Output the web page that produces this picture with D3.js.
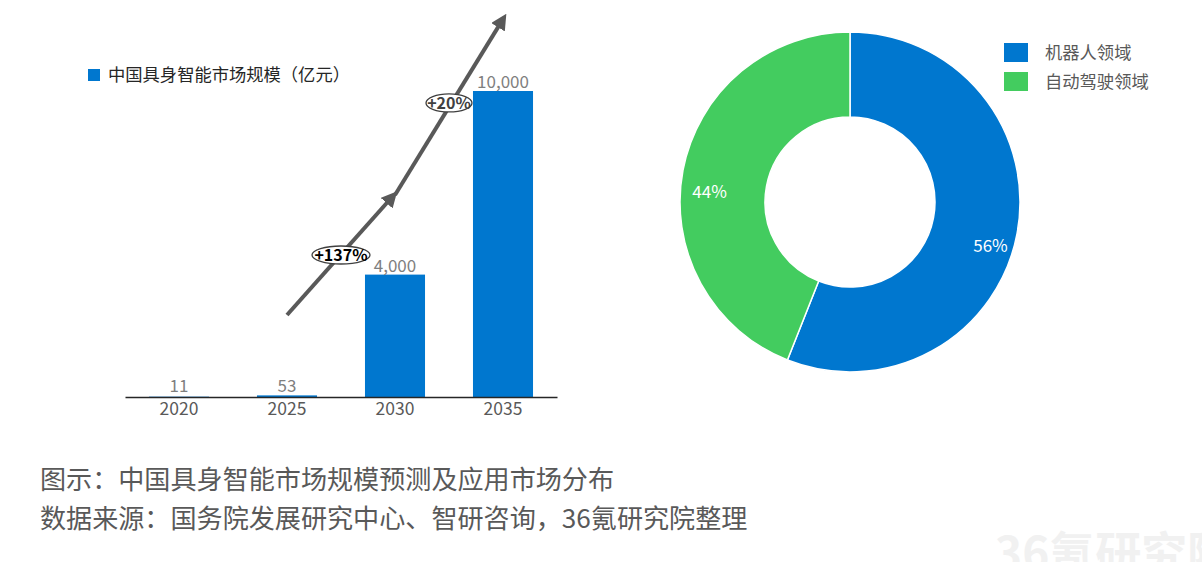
<!DOCTYPE html>
<html><head><meta charset="utf-8">
<script src="https://cdn.jsdelivr.net/npm/d3@7/dist/d3.min.js"></script>
<style>
html,body{margin:0;padding:0;background:#fff;}
svg{display:block;font-family:"Noto Sans CJK SC","Noto Sans",sans-serif;}
</style></head>
<body><svg id="c" width="1202" height="562"></svg>
<script>
// ---- data ----
const years = ["2020","2025","2030","2035"];
const marketSize = [11, 53, 4000, 10000];
const valueLabels = ["11","53","4,000","10,000"];
const barLegend = "中国具身智能市场规模（亿元）";
// growth annotations: arrow [from category, from value] -> [to category, to value]
const growthArrows = [
  {from:["2025",2680], to:["2030",6570]},
  {from:["2030",6600], to:["2035",12350]}
];
const growthLabels = ["+137%","+20%"];
const growthLabelAt = [["2025","2030",4640],["2030","2035",9610]];
const sectors = ["机器人领域","自动驾驶领域"];
const sectorShare = [56, 44];
const sectorColors = ["#0077cf","#43cc5f"];
const captionLines = ["图示：中国具身智能市场规模预测及应用市场分布","数据来源：国务院发展研究中心、智研咨询，36氪研究院整理"];
const watermark = "36氪研究院";

const svg = d3.select("#c");

// watermark
svg.append("text").attr("x",995).attr("y",570)
  .attr("font-size",46).attr("font-weight",700).attr("fill","#f1f1f1")
  .text(watermark);

// ---- bar chart ----
const x = d3.scaleBand().domain(years).range([125,557]).paddingInner(0.444).paddingOuter(0.222);
const y = d3.scaleLinear().domain([0,10000]).range([397,91]);
const mid = c => x(c) + x.bandwidth()/2;

svg.append("g").selectAll("rect").data(marketSize).join("rect")
  .attr("x",(d,i)=>x(years[i])).attr("width",x.bandwidth())
  .attr("y",d=>y(d)).attr("height",d=>y(0)-y(d))
  .attr("fill","#0077cf");

svg.append("g").selectAll("text").data(marketSize).join("text")
  .attr("x",(d,i)=>mid(years[i])).attr("y",d=>Math.min(y(d)-3,392))
  .attr("text-anchor","middle").attr("font-size",17).attr("fill","#7f7f7f")
  .text((d,i)=>valueLabels[i]);

const xAxis = svg.append("g").attr("transform","translate(0,397)")
  .call(d3.axisBottom(x).tickSize(0).tickPadding(6));
xAxis.select(".domain").attr("stroke","#262626").attr("stroke-width",1.5);
xAxis.selectAll("text").attr("font-size",17.5).attr("fill","#595959")
  .attr("font-family","'Noto Sans CJK SC','Noto Sans',sans-serif");

// legend (bar)
svg.append("rect").attr("x",88).attr("y",69).attr("width",12).attr("height",12).attr("fill","#0077cf");
svg.append("text").attr("x",108).attr("y",81).attr("font-size",17.3).attr("fill","#262626").text(barLegend);

// arrows
const defs = svg.append("defs");
defs.append("marker").attr("id","ah").attr("viewBox","0 0 10 10").attr("refX",6).attr("refY",5)
  .attr("markerWidth",4).attr("markerHeight",4).attr("orient","auto")
  .append("path").attr("d","M0,0 L10,5 L0,10 z").attr("fill","#595959");
svg.append("g").selectAll("line").data(growthArrows).join("line")
  .attr("x1",d=>mid(d.from[0])).attr("y1",d=>y(d.from[1]))
  .attr("x2",d=>mid(d.to[0])-(d.to[0]==="2030"?2:0)).attr("y2",d=>y(d.to[1]))
  .attr("stroke","#595959").attr("stroke-width",4).attr("marker-end","url(#ah)");

const gl = svg.append("g").selectAll("g").data(growthLabels).join("g")
  .attr("transform",(d,i)=>{const a=growthLabelAt[i];return `translate(${(mid(a[0])+mid(a[1]))/2},${y(a[2])})`;});
gl.append("ellipse").attr("rx",(d,i)=>i===0?29:23).attr("ry",9)
  .attr("fill","#fff").attr("stroke","#404040").attr("stroke-width",1.3);
gl.append("text").attr("text-anchor","middle").attr("dy","0.36em").attr("font-size",16)
  .attr("font-weight",700).attr("fill",(d,i)=>i===0?"#000":"#404040").text(d=>d);

// ---- donut ----
const cx = 850, cy = 202, R = 170, r = 85;
const pie = d3.pie().sort(null);
const arcs = pie(sectorShare);
const arc = d3.arc().innerRadius(r).outerRadius(R);
const dg = svg.append("g").attr("transform",`translate(${cx},${cy})`);
dg.selectAll("path").data(arcs).join("path").attr("d",arc)
  .attr("fill",(d,i)=>sectorColors[i]).attr("stroke","#fff").attr("stroke-width",1.5);
const labelArc = d3.arc().innerRadius(143).outerRadius(143);
dg.selectAll("text").data(arcs).join("text")
  .attr("transform",d=>{const c=labelArc.centroid(d);return `translate(${c[0]},${c[1]+17})`;})
  .attr("text-anchor","middle").attr("dy","0.35em").attr("font-size",17).attr("fill","#fff")
  .text(d=>d.data+"%");

// legend (donut)
const lg = svg.append("g").selectAll("g").data(sectors).join("g")
  .attr("transform",(d,i)=>`translate(1004,${43+i*29})`);
lg.append("rect").attr("width",24).attr("height",19).attr("fill",(d,i)=>sectorColors[i]);
lg.append("text").attr("x",41).attr("y",10).attr("dy","0.35em").attr("font-size",17.3).attr("fill","#595959").text(d=>d);

// caption
svg.append("g").selectAll("text").data(captionLines).join("text")
  .attr("x",40).attr("y",(d,i)=>489+i*39).attr("font-size",26.1).attr("fill","#595959").text(d=>d);
</script></body></html>
